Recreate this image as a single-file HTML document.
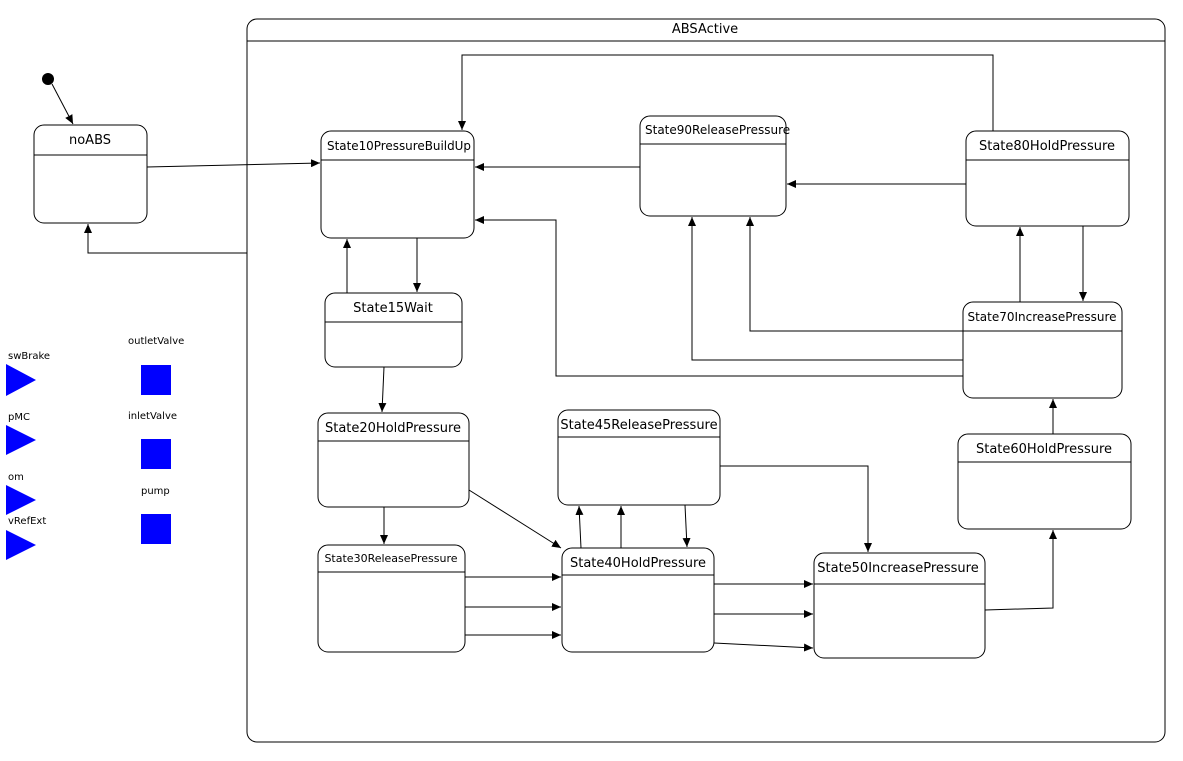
<!DOCTYPE html>
<html><head><meta charset="utf-8"><style>
html,body{margin:0;padding:0;background:#fff;}
svg{display:block;font-family:"DejaVu Sans","Liberation Sans",sans-serif;}
</style></head><body>
<svg width="1183" height="761" viewBox="0 0 1183 761" xmlns="http://www.w3.org/2000/svg">
<defs>
<marker id="a" markerWidth="10" markerHeight="8" refX="9" refY="4" orient="auto" markerUnits="userSpaceOnUse">
<path d="M0,0 L9,4 L0,8 z" fill="#000"/></marker>
</defs>
<g fill="none" stroke="#000" stroke-width="1">
<rect x="247" y="19" width="918" height="723" rx="10"/>
<line x1="247" y1="41" x2="1165" y2="41"/>
<rect x="34" y="125" width="113" height="98" rx="10"/><line x1="34" y1="155" x2="147" y2="155"/>
<rect x="321" y="131" width="153" height="107" rx="10"/><line x1="321" y1="160" x2="474" y2="160"/>
<rect x="640" y="116" width="146" height="100" rx="10"/><line x1="640" y1="144" x2="786" y2="144"/>
<rect x="966" y="131" width="163" height="95" rx="10"/><line x1="966" y1="160" x2="1129" y2="160"/>
<rect x="325" y="293" width="137" height="74" rx="10"/><line x1="325" y1="322" x2="462" y2="322"/>
<rect x="963" y="302" width="159" height="96" rx="10"/><line x1="963" y1="331" x2="1122" y2="331"/>
<rect x="318" y="413" width="151" height="94" rx="10"/><line x1="318" y1="441" x2="469" y2="441"/>
<rect x="558" y="410" width="162" height="95" rx="10"/><line x1="558" y1="437" x2="720" y2="437"/>
<rect x="958" y="434" width="173" height="95" rx="10"/><line x1="958" y1="462" x2="1131" y2="462"/>
<rect x="318" y="545" width="147" height="107" rx="10"/><line x1="318" y1="572" x2="465" y2="572"/>
<rect x="562" y="548" width="152" height="104" rx="10"/><line x1="562" y1="575" x2="714" y2="575"/>
<rect x="814" y="553" width="171" height="105" rx="10"/><line x1="814" y1="584" x2="985" y2="584"/>
</g>
<circle cx="48" cy="79" r="6" fill="#000"/>
<g fill="none" stroke="#000" stroke-width="1" marker-end="url(#a)">
<line x1="52" y1="84" x2="73" y2="124"/>
<line x1="147" y1="167" x2="320" y2="163"/>
<polyline points="247,253 88,253 88,224"/>
<line x1="347" y1="293" x2="347" y2="239"/>
<line x1="417" y1="238" x2="417" y2="292"/>
<line x1="640" y1="167" x2="475" y2="167"/>
<line x1="966" y1="184" x2="787" y2="184"/>
<polyline points="993,131 993,55 462,55 462,130"/>
<line x1="1083" y1="226" x2="1083" y2="301"/>
<line x1="1020" y1="302" x2="1020" y2="227"/>
<polyline points="963,331 750,331 750,217"/>
<polyline points="963,360 692,360 692,217"/>
<polyline points="963,376 556,376 556,220 475,220"/>
<line x1="1053" y1="434" x2="1053" y2="399"/>
<polyline points="985,610 1053,608 1053,530"/>
<line x1="384" y1="367" x2="382" y2="412"/>
<line x1="384" y1="507" x2="384" y2="544"/>
<line x1="469" y1="490" x2="561" y2="548"/>
<line x1="465" y1="577" x2="561" y2="577"/>
<line x1="465" y1="607" x2="561" y2="607"/>
<line x1="465" y1="635" x2="561" y2="635"/>
<line x1="581" y1="548" x2="579" y2="506"/>
<line x1="621" y1="548" x2="621" y2="506"/>
<line x1="685" y1="505" x2="687" y2="547"/>
<polyline points="720,466 868,466 868,552"/>
<line x1="714" y1="584" x2="813" y2="584"/>
<line x1="714" y1="614" x2="813" y2="614"/>
<line x1="714" y1="643" x2="813" y2="648"/>
</g>
<g fill="#000" font-size="13">
<text x="705" y="33" text-anchor="middle">ABSActive</text>
<text x="90" y="144" text-anchor="middle">noABS</text>
<text x="327" y="150" font-size="12.5" textLength="144" lengthAdjust="spacingAndGlyphs">State10PressureBuildUp</text>
<text x="645" y="134" font-size="12">State90ReleasePressure</text>
<text x="1047" y="150" text-anchor="middle">State80HoldPressure</text>
<text x="393" y="312" text-anchor="middle">State15Wait</text>
<text x="1042" y="321" text-anchor="middle" font-size="12">State70IncreasePressure</text>
<text x="393" y="432" text-anchor="middle">State20HoldPressure</text>
<text x="639" y="429" text-anchor="middle">State45ReleasePressure</text>
<text x="1044" y="453" text-anchor="middle">State60HoldPressure</text>
<text x="391" y="562" text-anchor="middle" font-size="11">State30ReleasePressure</text>
<text x="638" y="567" text-anchor="middle">State40HoldPressure</text>
<text x="898" y="572" text-anchor="middle">State50IncreasePressure</text>
</g>
<g font-size="10" fill="#000">
<text x="8" y="359">swBrake</text>
<text x="8" y="420">pMC</text>
<text x="8" y="480">om</text>
<text x="8" y="524">vRefExt</text>
<text x="128" y="344">outletValve</text>
<text x="128" y="419">inletValve</text>
<text x="141" y="494">pump</text>
</g>
<g fill="#0000ff">
<polygon points="6,364 36,380 6,396"/>
<polygon points="6,425 36,440 6,455"/>
<polygon points="6,485 36,500 6,515"/>
<polygon points="6,530 36,545 6,560"/>
<rect x="141" y="365" width="30" height="30"/>
<rect x="141" y="439" width="30" height="30"/>
<rect x="141" y="514" width="30" height="30"/>
</g>
</svg>
</body></html>
